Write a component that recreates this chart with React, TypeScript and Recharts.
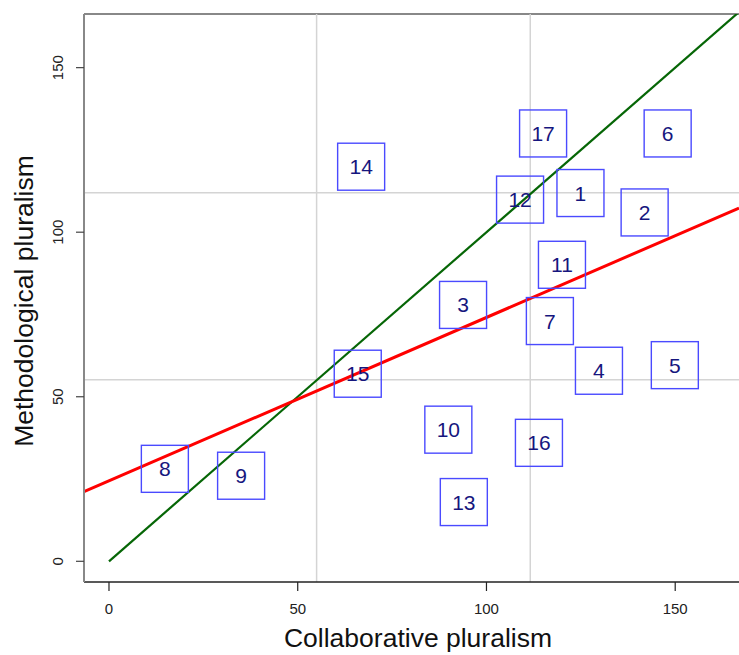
import React from "react";
import {
  ScatterChart,
  Scatter,
  XAxis,
  YAxis,
  ReferenceLine,
  Label,
} from "recharts";

// study ids with their scores
const IDS = [1, 2, 3, 4, 5, 6, 7, 8, 9, 10, 11, 12, 13, 14, 15, 16, 17];
const COLLABORATIVE = [
  124.9, 141.9, 93.8, 129.8, 149.9, 148.0, 116.8, 14.8, 35.0, 89.9, 120.0,
  108.9, 94.0, 66.8, 65.9, 113.9, 115.0,
];
const METHODOLOGICAL = [
  111.9, 106.0, 77.9, 57.9, 59.6, 130.0, 73.0, 28.1, 26.0, 40.0, 90.1, 109.9,
  18.0, 119.9, 57.0, 36.0, 130.0,
];

const X_TICKS = [0, 50, 100, 150];
const Y_TICKS = [0, 50, 100, 150];
const X_DOMAIN = [-6.62, 166.9];
const Y_DOMAIN = [-6.29, 166.3];

// mean lines
const X_MEANS = [55.0, 111.6];
const Y_MEANS = [55.2, 112.0];

// fitted line (red) and identity line (green)
const FIT_INTERCEPT = 24.44;
const FIT_SLOPE = 0.4966;

const FONT = '"Liberation Sans", Arial, sans-serif';

const points = IDS.map((id, i) => ({
  id,
  x: COLLABORATIVE[i],
  y: METHODOLOGICAL[i],
}));

const BOX = 47;

function BoxLabel(props: any) {
  const { cx, cy, payload } = props;
  if (cx == null || cy == null) return null;
  return (
    <g>
      <rect
        x={cx - BOX / 2}
        y={cy - BOX / 2}
        width={BOX}
        height={BOX}
        fill="none"
        stroke="#4a4aff"
        strokeWidth={1.4}
      />
      <text
        x={cx}
        y={cy + 7.5}
        textAnchor="middle"
        fontSize={21}
        fontFamily={FONT}
        fill="#16167e"
      >
        {payload.id}
      </text>
    </g>
  );
}

function XTick(props: any) {
  const { x, payload } = props;
  return (
    <text
      x={x}
      y={614}
      textAnchor="middle"
      fontSize={15}
      fontFamily={FONT}
      fill="#222"
    >
      {payload.value}
    </text>
  );
}

function YTick(props: any) {
  const { y, payload } = props;
  return (
    <text
      x={63}
      y={y}
      transform={`rotate(-90 63 ${y})`}
      textAnchor="middle"
      fontSize={15}
      fontFamily={FONT}
      fill="#222"
    >
      {payload.value}
    </text>
  );
}

export default function App() {
  const fitAt = (x: number) => FIT_INTERCEPT + FIT_SLOPE * x;
  return (
    <div style={{ position: "absolute", left: 0, top: 0, background: "#fff" }}>
      <ScatterChart
        width={739}
        height={655}
        margin={{ top: 14, right: 0, bottom: 0, left: 0 }}
      >
        <XAxis
          type="number"
          dataKey="x"
          domain={X_DOMAIN}
          ticks={X_TICKS}
          allowDataOverflow
          height={73}
          axisLine={{ stroke: "#222", strokeWidth: 1.5 }}
          tickLine={{ stroke: "#222", strokeWidth: 1.2 }}
          tickSize={9}
          tick={<XTick />}
        >
          <Label
            content={() => (
              <text
                x={418}
                y={647}
                textAnchor="middle"
                fontSize={26.5}
                fontFamily={FONT}
                fill="#111"
              >
                Collaborative pluralism
              </text>
            )}
          />
        </XAxis>
        <YAxis
          type="number"
          dataKey="y"
          domain={Y_DOMAIN}
          ticks={Y_TICKS}
          allowDataOverflow
          width={84}
          axisLine={{ stroke: "#888", strokeWidth: 2 }}
          tickLine={{ stroke: "#444", strokeWidth: 1.2 }}
          tickSize={8}
          tick={<YTick />}
        >
          <Label
            content={() => (
              <text
                x={33}
                y={301}
                transform="rotate(-90 33 301)"
                textAnchor="middle"
                fontSize={26.5}
                fontFamily={FONT}
                fill="#111"
              >
                Methodological pluralism
              </text>
            )}
          />
        </YAxis>

        {/* top frame */}
        <ReferenceLine
          y={Y_DOMAIN[1]}
          stroke="#888"
          strokeWidth={2}
          ifOverflow="visible"
        />

        {X_MEANS.map((v) => (
          <ReferenceLine key={`vx-${v}`} x={v} stroke="#d4d4d4" strokeWidth={1.5} />
        ))}
        {Y_MEANS.map((v) => (
          <ReferenceLine key={`hy-${v}`} y={v} stroke="#d4d4d4" strokeWidth={1.5} />
        ))}

        <ReferenceLine
          segment={[
            { x: 0, y: 0 },
            { x: 170, y: 170 },
          ]}
          stroke="#066606"
          strokeWidth={2.2}
          ifOverflow="hidden"
        />
        <ReferenceLine
          segment={[
            { x: X_DOMAIN[0], y: fitAt(X_DOMAIN[0]) },
            { x: X_DOMAIN[1], y: fitAt(X_DOMAIN[1]) },
          ]}
          stroke="#ff0000"
          strokeWidth={3}
          ifOverflow="hidden"
        />

        <Scatter
          data={points}
          shape={BoxLabel}
          isAnimationActive={false}
        />
      </ScatterChart>
    </div>
  );
}
